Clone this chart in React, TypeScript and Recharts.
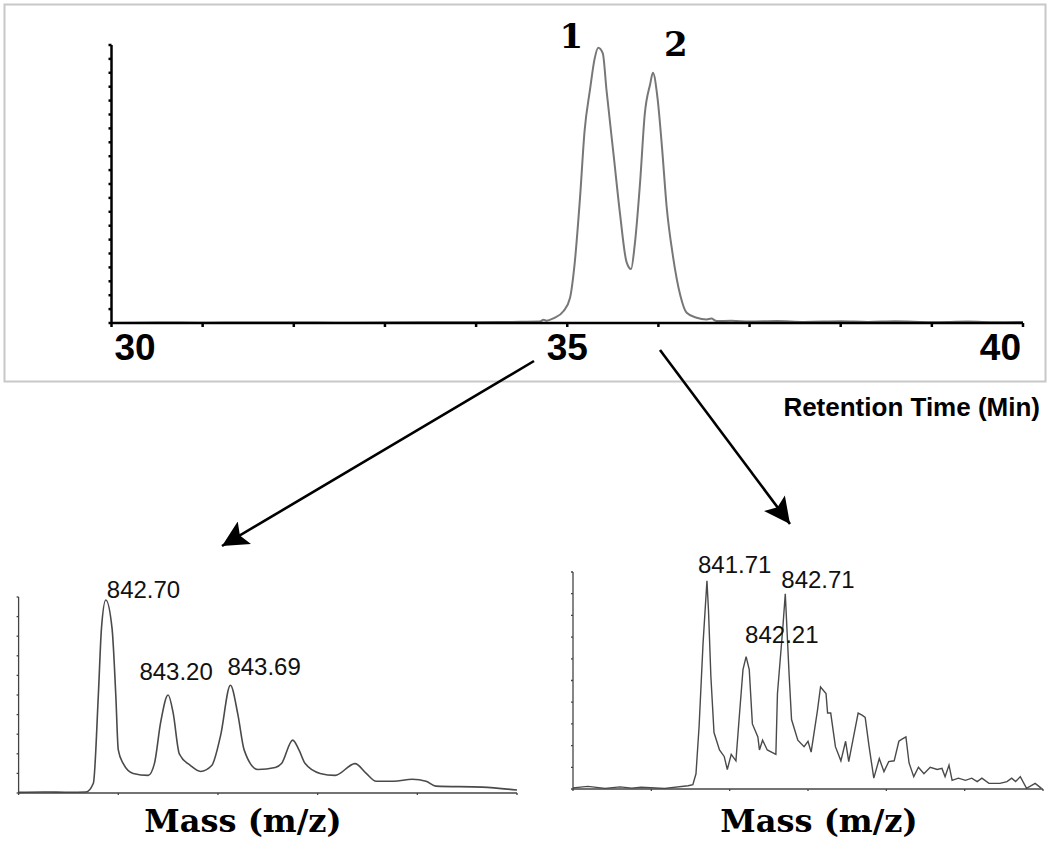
import { LineChart, Line, XAxis, YAxis } from "recharts";

// chromatogram (retention time in min, relative signal %)
const rtMinutes = [
  30.0, 30.5, 31.0, 31.5, 32.0, 32.5, 33.0, 33.5, 34.0, 34.4, 34.7, 34.74, 34.77, 34.85,
  34.96, 35.03, 35.08, 35.14, 35.19, 35.25, 35.3, 35.34, 35.39, 35.43, 35.51, 35.58,
  35.65, 35.7, 35.74, 35.8, 35.85, 35.91, 35.94, 35.99, 36.04, 36.09, 36.16, 36.24,
  36.31, 36.42, 36.53, 36.58, 36.64, 36.8, 37.0, 37.3, 37.6, 38.0, 38.3, 38.6, 39.0,
  39.4, 39.7, 40.0,
];
const rtSignal = [
  0, 0.2, 0.1, 0.2, 0.2, 0.1, 0.2, 0.3, 0.3, 0.4, 0.5, 1.2, 0.8, 1.7, 4.3, 9, 21, 45, 69,
  84, 95, 99, 97, 84, 60, 39, 22, 19.4, 28, 51, 75, 86, 90, 81, 63, 42, 24, 10, 3.7, 1.9,
  1.3, 1.6, 0.7, 0.8, 0.5, 0.7, 0.4, 0.6, 0.4, 0.6, 0.3, 0.5, 0.3, 0.4,
];
const rtTicks = [30, 31, 32, 33, 34, 35, 36, 37, 38, 39, 40];
const rtLabels = [30, 35, 40];
const rtPeaks = [
  { at: 35.34, text: "1", dx: -27, dy: 0 },
  { at: 35.94, text: "2", dx: 23, dy: -17 },
];

// mass spectrum of peak 1
const mzLeft = [
  842.0, 842.2, 842.4, 842.54, 842.6, 842.64, 842.665, 842.7, 842.75, 842.78, 842.8,
  842.84, 842.92, 843.04, 843.09, 843.14, 843.2, 843.24, 843.29, 843.38, 843.46, 843.55,
  843.62, 843.7, 843.76, 843.81, 843.92, 844.06, 844.11, 844.2, 844.25, 844.3, 844.42,
  844.54, 844.7, 844.79, 844.87, 845.01, 845.16, 845.27, 845.35, 845.72, 846.0,
];
const intensityLeft = [
  0.3, 0.5, 0.4, 0.5, 5, 50, 84, 98.5, 84, 50, 22, 15, 10, 9, 15, 36, 50, 41, 20, 14, 11,
  14, 29, 55, 40, 22, 12, 13, 15, 27, 22, 15, 10, 9, 15, 10, 6, 6, 7, 6, 3.5, 3, 1.5,
];
const leftPeaks = [
  { at: 842.7, text: "842.70", dx: 1, dy: -2, anchor: "start" },
  { at: 843.2, text: "843.20", dx: 8, dy: -15, anchor: "middle" },
  { at: 843.7, text: "843.69", dx: -3, dy: -10, anchor: "start" },
];

// mass spectrum of peak 2
const mzRight = [
  840.0, 840.19, 840.41, 840.6, 840.75, 840.87, 841.17, 841.47, 841.53, 841.57, 841.61,
  841.66, 841.71, 841.73, 841.76, 841.8, 841.87, 841.93, 841.97, 842.02, 842.08, 842.12,
  842.17, 842.21, 842.25, 842.29, 842.36, 842.38, 842.42, 842.48, 842.59, 842.61, 842.68,
  842.71, 842.76, 842.79, 842.87, 842.95, 843.0, 843.04, 843.12, 843.16, 843.23, 843.25,
  843.29, 843.35, 843.42, 843.48, 843.52, 843.64, 843.69, 843.73, 843.78, 843.84, 843.91,
  843.97, 844.03, 844.1, 844.16, 844.2, 844.25, 844.29, 844.35, 844.41, 844.48, 844.56,
  844.65, 844.71, 844.75, 844.8, 844.84, 844.92, 845.01, 845.09, 845.16, 845.22, 845.31,
  845.45, 845.54, 845.6, 845.65, 845.71, 845.79, 845.9, 845.98,
];
const intensityRight = [
  0.5, 1.2, 0.3, 1, 0.4, 0.8, 0.3, 1.5, 2, 7, 29, 67, 96, 82, 52, 26, 18, 15, 9, 16, 13,
  32, 55, 61, 55, 30, 24, 18, 22.5, 18, 16, 44, 75, 90, 52, 32, 22.5, 19.5, 22, 17, 36,
  47, 44, 35, 35, 19.5, 13, 22, 12.6, 35, 34, 33, 19.5, 5, 14, 8, 12.6, 13, 22, 23, 24,
  12, 5.7, 10, 7, 10, 9, 9.5, 5.7, 11, 4, 5, 4, 5, 3.4, 5, 2.6, 2.6, 3.4, 5, 3.4, 5.7, 0.3,
  2.6, 0.3,
];
const rightPeaks = [
  { at: 841.71, text: "841.71", dx: -9, dy: -8, anchor: "start" },
  { at: 842.21, text: "842.21", dx: -1, dy: -14, anchor: "start" },
  { at: 842.71, text: "842.71", dx: -4, dy: -6, anchor: "start" },
];

const rtData = rtMinutes.map((t, i) => ({ t, v: rtSignal[i] }));
const leftData = mzLeft.map((mz, i) => ({ mz, v: intensityLeft[i] }));
const rightData = mzRight.map((mz, i) => ({ mz, v: intensityRight[i] }));

const every = (step: number, max: number) => {
  const out: number[] = [];
  for (let v = 0; v <= max; v += step) out.push(v);
  return out;
};

const sans = "'Liberation Sans', Arial, sans-serif";
const serif = "'DejaVu Serif', serif";

// draws a tag above chosen points of a line, nothing elsewhere
const peakTags =
  (key: string, peaks: any[], font: any) =>
  (props: any) => {
    const { cx, cy, payload, index } = props;
    const p = peaks.find((pk) => Math.abs(pk.at - payload[key]) < 0.001);
    if (!p) return <g key={index} />;
    return (
      <text
        key={index}
        x={cx + p.dx}
        y={cy + p.dy}
        textAnchor={p.anchor || "middle"}
        {...font}
      >
        {p.text}
      </text>
    );
  };

const RtTick = (props: any) => {
  const { x, y, payload } = props;
  const v = payload.value;
  if (!rtLabels.includes(v)) return <g />;
  const anchor = v === 30 ? "start" : v === 40 ? "end" : "middle";
  const dx = v === 30 ? 3 : v === 40 ? -2 : 0;
  return (
    <text
      x={x + dx}
      y={y}
      dy={31}
      textAnchor={anchor}
      fontFamily={sans}
      fontWeight="bold"
      fontSize={37}
      fill="#000"
    >
      {v}
    </text>
  );
};

const NoLabel = () => <g />;

export default function App() {
  return (
    <div
      style={{
        position: "absolute",
        left: 0,
        top: 0,
        width: 1050,
        height: 846,
        background: "#fff",
        overflow: "hidden",
      }}
    >
      <svg width={1050} height={846} style={{ position: "absolute", left: 0, top: 0 }}>
        <rect x={4.5} y={4.5} width={1041} height={377} fill="none" stroke="#c8c8c8" strokeWidth={2} />
      </svg>

      <div style={{ position: "absolute", left: 0, top: 0 }}>
        <LineChart
          width={1050}
          height={400}
          data={rtData}
          margin={{ top: 45, right: 27, bottom: 37, left: 101.5 }}
        >
          <XAxis
            dataKey="t"
            type="number"
            domain={[30, 40]}
            ticks={rtTicks}
            height={40}
            stroke="#000"
            strokeWidth={2.5}
            tickSize={4}
            tickMargin={2}
            tick={<RtTick />}
            interval={0}
          />
          <YAxis
            type="number"
            domain={[0, 100]}
            ticks={every(5, 100)}
            width={10}
            stroke="#000"
            strokeWidth={2.5}
            tickSize={3}
            tick={<NoLabel />}
            interval={0}
          />
          <YAxis
            yAxisId="inner"
            mirror
            type="number"
            domain={[0, 100]}
            ticks={every(5, 100)}
            width={0}
            stroke="#000"
            strokeWidth={2}
            axisLine={false}
            tickSize={3}
            tick={<NoLabel />}
            interval={0}
          />
          <Line
            dataKey="v"
            type="monotone"
            stroke="#777"
            strokeWidth={2}
            dot={peakTags("t", rtPeaks, {
              fontFamily: serif,
              fontWeight: "bold",
              fontSize: 34,
              fill: "#000",
            })}
            activeDot={false}
            isAnimationActive={false}
          />
        </LineChart>
      </div>

      <div style={{ position: "absolute", left: 0, top: 560 }}>
        <LineChart
          width={530}
          height={250}
          data={leftData}
          margin={{ top: 37, right: 13, bottom: 7, left: 8.6 }}
        >
          <XAxis
            dataKey="mz"
            type="number"
            domain={[842, 846]}
            ticks={[842, 842.8, 843.6, 844.4, 845.2, 846]}
            height={10}
            stroke="#444"
            strokeWidth={1.3}
            tickSize={2}
            tick={<NoLabel />}
            interval={0}
          />
          <YAxis
            type="number"
            domain={[0, 100]}
            ticks={every(10, 100)}
            width={10}
            stroke="#444"
            strokeWidth={1.3}
            tickSize={2}
            tick={<NoLabel />}
            interval={0}
          />
          <Line
            dataKey="v"
            type="monotone"
            stroke="#4a4a4a"
            strokeWidth={1.6}
            dot={peakTags("mz", leftPeaks, { fontFamily: sans, fontSize: 24, fill: "#111" })}
            activeDot={false}
            isAnimationActive={false}
          />
        </LineChart>
      </div>

      <div style={{ position: "absolute", left: 555, top: 550 }}>
        <LineChart
          width={495}
          height={260}
          data={rightData}
          margin={{ top: 22, right: 7, bottom: 11, left: 8 }}
        >
          <XAxis
            dataKey="mz"
            type="number"
            domain={[840, 846]}
            ticks={[840, 841, 842, 843, 844, 845, 846]}
            height={10}
            stroke="#444"
            strokeWidth={1.3}
            tickSize={2}
            tick={<NoLabel />}
            interval={0}
          />
          <YAxis
            type="number"
            domain={[0, 100]}
            ticks={every(10, 100)}
            width={10}
            stroke="#444"
            strokeWidth={1.3}
            tickSize={2}
            tick={<NoLabel />}
            interval={0}
          />
          <Line
            dataKey="v"
            type="linear"
            stroke="#4a4a4a"
            strokeWidth={1.4}
            dot={peakTags("mz", rightPeaks, { fontFamily: sans, fontSize: 24, fill: "#111" })}
            activeDot={false}
            isAnimationActive={false}
          />
        </LineChart>
      </div>

      <svg
        width={1050}
        height={846}
        style={{ position: "absolute", left: 0, top: 0, pointerEvents: "none" }}
      >
        <defs>
          <marker
            id="head"
            viewBox="0 0 10 10"
            refX="10"
            refY="5"
            markerWidth="11"
            markerHeight="10"
            markerUnits="strokeWidth"
            orient="auto"
          >
            <path d="M0,0 L10,5 L0,10 L2,5 z" fill="#000" />
          </marker>
        </defs>
        <line x1={534} y1={361} x2={222} y2={546} stroke="#000" strokeWidth={2.6} markerEnd="url(#head)" />
        <line x1={660} y1={350} x2={790} y2={524} stroke="#000" strokeWidth={2.6} markerEnd="url(#head)" />
        <text
          x={1040}
          y={416}
          textAnchor="end"
          fontFamily={sans}
          fontWeight="bold"
          fontSize={26}
          fill="#000"
        >
          Retention Time (Min)
        </text>
        <text x={243} y={832} textAnchor="middle" fontFamily={serif} fontWeight="bold" fontSize={32} fill="#000">
          Mass (m/z)
        </text>
        <text x={819} y={832} textAnchor="middle" fontFamily={serif} fontWeight="bold" fontSize={32} fill="#000">
          Mass (m/z)
        </text>
      </svg>
    </div>
  );
}
